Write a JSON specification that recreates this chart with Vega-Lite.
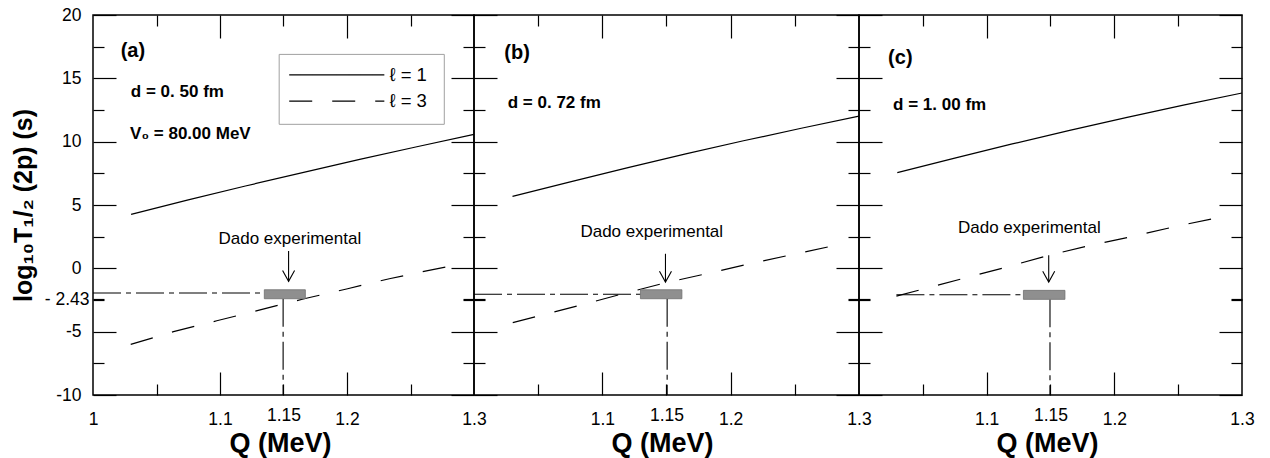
{
  "$schema": "https://vega.github.io/schema/vega-lite/v6.json",
  "padding": {"left": 10, "top": 5, "right": 5, "bottom": 5},
  "background": "white",
  "bounds": "flush",
  "spacing": 0,
  "config": {
    "view": {"stroke": "black", "strokeWidth": 1.5},
    "axis": {"domain": false, "grid": false, "labelFont": "Liberation Sans", "labelFontSize": 17.5, "labelColor": "black", "tickColor": "black", "tickWidth": 1.2, "titleFont": "Liberation Sans", "titleColor": "black", "labelFlush": false, "labelOverlap": false},
    "text": {"font": "Liberation Sans"}
  },
  "datasets": {
    "curves": [
      {"p": "a", "s": "l1", "Q": 1.03, "y": 4.26}, {"p": "a", "s": "l1", "Q": 1.075, "y": 5.40}, {"p": "a", "s": "l1", "Q": 1.12, "y": 6.50}, {"p": "a", "s": "l1", "Q": 1.165, "y": 7.56}, {"p": "a", "s": "l1", "Q": 1.21, "y": 8.60}, {"p": "a", "s": "l1", "Q": 1.255, "y": 9.60}, {"p": "a", "s": "l1", "Q": 1.30, "y": 10.58},
      {"p": "a", "s": "l3", "Q": 1.0297, "y": -6.00}, {"p": "a", "s": "l3", "Q": 1.0634, "y": -5.00}, {"p": "a", "s": "l3", "Q": 1.0975, "y": -4.14}, {"p": "a", "s": "l3", "Q": 1.1316, "y": -3.28}, {"p": "a", "s": "l3", "Q": 1.1663, "y": -2.40}, {"p": "a", "s": "l3", "Q": 1.2005, "y": -1.61}, {"p": "a", "s": "l3", "Q": 1.2333, "y": -0.82}, {"p": "a", "s": "l3", "Q": 1.2685, "y": -0.08}, {"p": "a", "s": "l3", "Q": 1.2853, "y": 0.24},
      {"p": "b", "s": "l1", "Q": 1.03, "y": 5.68}, {"p": "b", "s": "l1", "Q": 1.075, "y": 6.83}, {"p": "b", "s": "l1", "Q": 1.12, "y": 7.95}, {"p": "b", "s": "l1", "Q": 1.165, "y": 9.03}, {"p": "b", "s": "l1", "Q": 1.21, "y": 10.07}, {"p": "b", "s": "l1", "Q": 1.255, "y": 11.06}, {"p": "b", "s": "l1", "Q": 1.30, "y": 12.02},
      {"p": "b", "s": "l3", "Q": 1.0302, "y": -4.29}, {"p": "b", "s": "l3", "Q": 1.0803, "y": -2.98}, {"p": "b", "s": "l3", "Q": 1.1133, "y": -2.08}, {"p": "b", "s": "l3", "Q": 1.1484, "y": -1.16}, {"p": "b", "s": "l3", "Q": 1.181, "y": -0.43}, {"p": "b", "s": "l3", "Q": 1.2147, "y": 0.36}, {"p": "b", "s": "l3", "Q": 1.2486, "y": 1.10}, {"p": "b", "s": "l3", "Q": 1.2837, "y": 1.86},
      {"p": "c", "s": "l1", "Q": 1.03, "y": 7.55}, {"p": "c", "s": "l1", "Q": 1.075, "y": 8.70}, {"p": "c", "s": "l1", "Q": 1.12, "y": 9.82}, {"p": "c", "s": "l1", "Q": 1.165, "y": 10.89}, {"p": "c", "s": "l1", "Q": 1.21, "y": 11.92}, {"p": "c", "s": "l1", "Q": 1.255, "y": 12.90}, {"p": "c", "s": "l1", "Q": 1.30, "y": 13.84},
      {"p": "c", "s": "l3", "Q": 1.0293, "y": -2.19}, {"p": "c", "s": "l3", "Q": 1.0809, "y": -0.82}, {"p": "c", "s": "l3", "Q": 1.1139, "y": 0.05}, {"p": "c", "s": "l3", "Q": 1.1486, "y": 1.03}, {"p": "c", "s": "l3", "Q": 1.1816, "y": 1.82}, {"p": "c", "s": "l3", "Q": 1.2155, "y": 2.55}, {"p": "c", "s": "l3", "Q": 1.2494, "y": 3.34}, {"p": "c", "s": "l3", "Q": 1.2838, "y": 4.05}
    ],
    "exp": [
      {"p": "a", "k": "h", "Q": 1.0, "Q2": 1.1349, "y": -1.95, "y2": -1.95},
      {"p": "a", "k": "v", "Q": 1.1497, "Q2": 1.1497, "y": -2.40, "y2": -10},
      {"p": "a", "k": "box", "Q": 1.1349, "Q2": 1.1672, "y": -1.69, "y2": -2.40},
      {"p": "a", "k": "arrow", "Q": 1.154, "Q2": 1.154, "y": 1.36, "y2": -1.03},
      {"p": "a", "k": "text", "Q": 1.155, "y": 2.3, "label": "Dado experimental"},
      {"p": "b", "k": "h", "Q": 1.0, "Q2": 1.1297, "y": -2.05, "y2": -2.05},
      {"p": "b", "k": "v", "Q": 1.1505, "Q2": 1.1505, "y": -2.40, "y2": -10},
      {"p": "b", "k": "box", "Q": 1.1297, "Q2": 1.162, "y": -1.69, "y2": -2.40},
      {"p": "b", "k": "arrow", "Q": 1.1492, "Q2": 1.1492, "y": 1.15, "y2": -1.08},
      {"p": "b", "k": "text", "Q": 1.1385, "y": 2.87, "label": "Dado experimental"},
      {"p": "c", "k": "h", "Q": 1.0293, "Q2": 1.1288, "y": -2.08, "y2": -2.08},
      {"p": "c", "k": "v", "Q": 1.1496, "Q2": 1.1496, "y": -2.45, "y2": -10},
      {"p": "c", "k": "box", "Q": 1.1288, "Q2": 1.1613, "y": -1.74, "y2": -2.45},
      {"p": "c", "k": "arrow", "Q": 1.1486, "Q2": 1.1486, "y": 1.03, "y2": -1.08},
      {"p": "c", "k": "text", "Q": 1.1334, "y": 3.2, "label": "Dado experimental"}
    ],
    "txt": [
      {"p": "a", "k": "tag", "Q": 1.0218, "y": 17.15, "label": "(a)"},
      {"p": "a", "k": "info", "Q": 1.0298, "y": 13.92, "label": "d = 0. 50 fm"},
      {"p": "a", "k": "info", "Q": 1.0292, "y": 10.62, "label": "V₀ = 80.00 MeV"},
      {"p": "b", "k": "tag", "Q": 1.0236, "y": 17.0, "label": "(b)"},
      {"p": "b", "k": "info", "Q": 1.0263, "y": 13.06, "label": "d = 0. 72 fm"},
      {"p": "c", "k": "tag", "Q": 1.0228, "y": 16.6, "label": "(c)"},
      {"p": "c", "k": "info", "Q": 1.0267, "y": 12.9, "label": "d = 1. 00 fm"}
    ],
    "leg": [
      {"s": "l1", "Q": 1.1545, "Q2": 1.2294, "y": 15.28, "tQ": 1.2335, "label": "ℓ = 1"},
      {"s": "l3", "Q": 1.1545, "Q2": 1.2294, "y": 13.2, "tQ": 1.2335, "label": "ℓ = 3"}
    ],
    "legbox": [
      {"Q": 1.1466, "Q2": 1.2766, "y": 16.89, "y2": 11.37}
    ]
  },
  "hconcat": [
    {
      "width": 381, "height": 380,
      "resolve": {"axis": {"x": "independent", "y": "independent"}},
      "layer": [
        {"data": {"name": "curves"}, "transform": [{"filter": "datum.p=='a' && datum.s=='l1'"}],
         "mark": {"type": "line", "color": "black", "strokeWidth": 1.2},
         "encoding": {
           "x": {"field": "Q", "type": "quantitative", "scale": {"domain": [1, 1.3], "nice": false, "zero": false},
                 "axis": {"orient": "bottom", "values": [1.05, 1.1, 1.15, 1.2, 1.25], "labels": false, "title": null, "tickSize": {"condition": {"test": "datum.value==1.1 || datum.value==1.2", "value": -23}, "value": -11}}},
           "y": {"field": "y", "type": "quantitative", "scale": {"domain": [-10, 20], "nice": false, "zero": false},
                 "axis": {"orient": "left", "values": [-10, -7.5, -5, -2.5, -2.43, 0, 2.5, 5, 7.5, 10, 12.5, 15, 17.5, 20], "labels": false, "title": null, "tickSize": {"condition": {"test": "datum.value % 5 == 0", "value": -23}, "value": -11}}}
         }},
        {"data": {"name": "curves"}, "transform": [{"filter": "datum.p=='a' && datum.s=='l3'"}],
         "mark": {"type": "line", "color": "black", "strokeWidth": 1.2, "strokeDash": [23, 20]},
         "encoding": {
           "x": {"field": "Q", "type": "quantitative", "scale": {"domain": [1, 1.3], "nice": false, "zero": false},
                 "axis": {"orient": "top", "values": [1.05, 1.1, 1.15, 1.2, 1.25], "labels": false, "title": null, "tickSize": {"condition": {"test": "datum.value==1.1 || datum.value==1.2", "value": -23}, "value": -11}}},
           "y": {"field": "y", "type": "quantitative", "scale": {"domain": [-10, 20], "nice": false, "zero": false},
                 "axis": {"orient": "right", "values": [-10, -7.5, -5, -2.5, -2.43, 0, 2.5, 5, 7.5, 10, 12.5, 15, 17.5, 20], "labels": false, "title": null, "tickSize": {"condition": {"test": "datum.value % 5 == 0", "value": -23}, "value": -11}}}
         }},
        {"data": {"name": "exp"}, "transform": [{"filter": "datum.p=='a' && datum.k=='h'"}],
         "mark": {"type": "rule", "color": "black", "strokeWidth": 1.1, "strokeDash": [28, 5, 5, 5]},
         "encoding": {
           "x": {"field": "Q", "type": "quantitative", "scale": {"domain": [1, 1.3], "nice": false, "zero": false},
                 "axis": {"orient": "bottom", "values": [1, 1.1, 1.15, 1.2, 1.3], "ticks": false, "labelExpr": "'' + datum.value", "labelPadding": {"condition": {"test": "datum.value==1.15", "value": 11}, "value": 15}, "title": "Q (MeV)", "titleFontSize": 27, "titleFontWeight": "bold", "titleBaseline": "alphabetic", "titleY": 56, "titleX": 187}},
           "x2": {"field": "Q2"},
           "y": {"field": "y", "type": "quantitative", "scale": {"domain": [-10, 20], "nice": false, "zero": false},
                 "axis": {"orient": "left", "values": [-10, -5, -2.43, 0, 5, 10, 15, 20], "ticks": false, "labelExpr": "datum.value==-2.43 ? '- 2.43' : '' + datum.value", "labelPadding": {"condition": {"test": "datum.value==-2.43", "value": 4}, "value": 12}, "title": "log₁₀T₁/₂ (2p) (s)", "titleFontSize": 25, "titleFontWeight": "bold", "titleBaseline": "middle", "titleX": -70}}
         }},
        {"data": {"name": "exp"}, "transform": [{"filter": "datum.p=='a' && datum.k=='v'"}],
         "mark": {"type": "rule", "color": "black", "strokeWidth": 1.1, "strokeDash": [28, 5, 5, 5]},
         "encoding": {
           "x": {"field": "Q", "type": "quantitative", "axis": null},
           "y": {"field": "y", "type": "quantitative", "axis": null},
           "y2": {"field": "y2"}
         }},
        {"data": {"name": "exp"}, "transform": [{"filter": "datum.p=='a' && datum.k=='box'"}],
         "mark": {"type": "rect", "color": "#8f8f8f", "stroke": "#707070", "strokeWidth": 0.8},
         "encoding": {
           "x": {"field": "Q", "type": "quantitative", "axis": null}, "x2": {"field": "Q2"},
           "y": {"field": "y", "type": "quantitative", "axis": null}, "y2": {"field": "y2"}
         }},
        {"data": {"name": "exp"}, "transform": [{"filter": "datum.p=='a' && datum.k=='arrow'"}],
         "mark": {"type": "rule", "color": "black", "strokeWidth": 1.1},
         "encoding": {
           "x": {"field": "Q", "type": "quantitative", "axis": null},
           "y": {"field": "y", "type": "quantitative", "axis": null}, "y2": {"field": "y2"}
         }},
        {"data": {"name": "exp"}, "transform": [{"filter": "datum.p=='a' && datum.k=='arrow'"}],
         "mark": {"type": "point", "shape": "M-1,-1.8L0,0L1,-1.8", "size": 144, "filled": false, "color": "black", "strokeWidth": 1.1, "opacity": 1},
         "encoding": {
           "x": {"field": "Q", "type": "quantitative", "axis": null},
           "y": {"field": "y2", "type": "quantitative", "axis": null}
         }},
        {"data": {"name": "exp"}, "transform": [{"filter": "datum.p=='a' && datum.k=='text'"}],
         "mark": {"type": "text", "fontSize": 17, "align": "center", "baseline": "middle", "color": "black"},
         "encoding": {
           "x": {"field": "Q", "type": "quantitative", "axis": null},
           "y": {"field": "y", "type": "quantitative", "axis": null},
           "text": {"field": "label"}
         }},
        {"data": {"name": "txt"}, "transform": [{"filter": "datum.p=='a' && datum.k=='tag'"}],
         "mark": {"type": "text", "fontSize": 20, "fontWeight": "bold", "align": "left", "baseline": "middle", "color": "black"},
         "encoding": {
           "x": {"field": "Q", "type": "quantitative", "axis": null},
           "y": {"field": "y", "type": "quantitative", "axis": null},
           "text": {"field": "label"}
         }},
        {"data": {"name": "txt"}, "transform": [{"filter": "datum.p=='a' && datum.k=='info'"}],
         "mark": {"type": "text", "fontSize": 17, "fontWeight": "bold", "align": "left", "baseline": "middle", "color": "black"},
         "encoding": {
           "x": {"field": "Q", "type": "quantitative", "axis": null},
           "y": {"field": "y", "type": "quantitative", "axis": null},
           "text": {"field": "label"}
         }},
        {"data": {"name": "legbox"},
         "mark": {"type": "rect", "fill": "white", "stroke": "#a0a0a0", "strokeWidth": 1},
         "encoding": {
           "x": {"field": "Q", "type": "quantitative", "axis": null}, "x2": {"field": "Q2"},
           "y": {"field": "y", "type": "quantitative", "axis": null}, "y2": {"field": "y2"}
         }},
        {"data": {"name": "leg"},
         "mark": {"type": "rule", "color": "black", "strokeWidth": 1.2},
         "encoding": {
           "x": {"field": "Q", "type": "quantitative", "axis": null}, "x2": {"field": "Q2"},
           "y": {"field": "y", "type": "quantitative", "axis": null},
           "strokeDash": {"field": "s", "type": "nominal", "scale": {"domain": ["l1", "l3"], "range": [[1, 0], [23, 20]]}, "legend": null}
         }},
        {"data": {"name": "leg"},
         "mark": {"type": "text", "fontSize": 18.5, "align": "left", "baseline": "middle", "color": "black"},
         "encoding": {
           "x": {"field": "tQ", "type": "quantitative", "axis": null},
           "y": {"field": "y", "type": "quantitative", "axis": null},
           "text": {"field": "label"}
         }}
      ]
    },
    {
      "width": 385, "height": 380,
      "resolve": {"axis": {"x": "independent", "y": "independent"}},
      "layer": [
        {"data": {"name": "curves"}, "transform": [{"filter": "datum.p=='b' && datum.s=='l1'"}],
         "mark": {"type": "line", "color": "black", "strokeWidth": 1.2},
         "encoding": {
           "x": {"field": "Q", "type": "quantitative", "scale": {"domain": [1, 1.3], "nice": false, "zero": false},
                 "axis": {"orient": "bottom", "values": [1.05, 1.1, 1.15, 1.2, 1.25], "labels": false, "title": null, "tickSize": {"condition": {"test": "datum.value==1.1 || datum.value==1.2", "value": -23}, "value": -11}}},
           "y": {"field": "y", "type": "quantitative", "scale": {"domain": [-10, 20], "nice": false, "zero": false},
                 "axis": {"orient": "left", "values": [-10, -7.5, -5, -2.5, -2.43, 0, 2.5, 5, 7.5, 10, 12.5, 15, 17.5, 20], "labels": false, "title": null, "tickSize": {"condition": {"test": "datum.value % 5 == 0", "value": -23}, "value": -11}}}
         }},
        {"data": {"name": "curves"}, "transform": [{"filter": "datum.p=='b' && datum.s=='l3'"}],
         "mark": {"type": "line", "color": "black", "strokeWidth": 1.2, "strokeDash": [23, 20]},
         "encoding": {
           "x": {"field": "Q", "type": "quantitative", "scale": {"domain": [1, 1.3], "nice": false, "zero": false},
                 "axis": {"orient": "top", "values": [1.05, 1.1, 1.15, 1.2, 1.25], "labels": false, "title": null, "tickSize": {"condition": {"test": "datum.value==1.1 || datum.value==1.2", "value": -23}, "value": -11}}},
           "y": {"field": "y", "type": "quantitative", "scale": {"domain": [-10, 20], "nice": false, "zero": false},
                 "axis": {"orient": "right", "values": [-10, -7.5, -5, -2.5, -2.43, 0, 2.5, 5, 7.5, 10, 12.5, 15, 17.5, 20], "labels": false, "title": null, "tickSize": {"condition": {"test": "datum.value % 5 == 0", "value": -23}, "value": -11}}}
         }},
        {"data": {"name": "exp"}, "transform": [{"filter": "datum.p=='b' && datum.k=='h'"}],
         "mark": {"type": "rule", "color": "black", "strokeWidth": 1.1, "strokeDash": [28, 5, 5, 5]},
         "encoding": {
           "x": {"field": "Q", "type": "quantitative", "scale": {"domain": [1, 1.3], "nice": false, "zero": false},
                 "axis": {"orient": "bottom", "values": [1.1, 1.15, 1.2, 1.3], "ticks": false, "labelExpr": "'' + datum.value", "labelPadding": {"condition": {"test": "datum.value==1.15", "value": 11}, "value": 15}, "title": "Q (MeV)", "titleFontSize": 27, "titleFontWeight": "bold", "titleBaseline": "alphabetic", "titleY": 56, "titleX": 188}},
           "x2": {"field": "Q2"},
           "y": {"field": "y", "type": "quantitative", "scale": {"domain": [-10, 20], "nice": false, "zero": false}, "axis": null}
         }},
        {"data": {"name": "exp"}, "transform": [{"filter": "datum.p=='b' && datum.k=='v'"}],
         "mark": {"type": "rule", "color": "black", "strokeWidth": 1.1, "strokeDash": [28, 5, 5, 5]},
         "encoding": {
           "x": {"field": "Q", "type": "quantitative", "axis": null},
           "y": {"field": "y", "type": "quantitative", "axis": null},
           "y2": {"field": "y2"}
         }},
        {"data": {"name": "exp"}, "transform": [{"filter": "datum.p=='b' && datum.k=='box'"}],
         "mark": {"type": "rect", "color": "#8f8f8f", "stroke": "#707070", "strokeWidth": 0.8},
         "encoding": {
           "x": {"field": "Q", "type": "quantitative", "axis": null}, "x2": {"field": "Q2"},
           "y": {"field": "y", "type": "quantitative", "axis": null}, "y2": {"field": "y2"}
         }},
        {"data": {"name": "exp"}, "transform": [{"filter": "datum.p=='b' && datum.k=='arrow'"}],
         "mark": {"type": "rule", "color": "black", "strokeWidth": 1.1},
         "encoding": {
           "x": {"field": "Q", "type": "quantitative", "axis": null},
           "y": {"field": "y", "type": "quantitative", "axis": null}, "y2": {"field": "y2"}
         }},
        {"data": {"name": "exp"}, "transform": [{"filter": "datum.p=='b' && datum.k=='arrow'"}],
         "mark": {"type": "point", "shape": "M-1,-1.8L0,0L1,-1.8", "size": 144, "filled": false, "color": "black", "strokeWidth": 1.1, "opacity": 1},
         "encoding": {
           "x": {"field": "Q", "type": "quantitative", "axis": null},
           "y": {"field": "y2", "type": "quantitative", "axis": null}
         }},
        {"data": {"name": "exp"}, "transform": [{"filter": "datum.p=='b' && datum.k=='text'"}],
         "mark": {"type": "text", "fontSize": 17, "align": "center", "baseline": "middle", "color": "black"},
         "encoding": {
           "x": {"field": "Q", "type": "quantitative", "axis": null},
           "y": {"field": "y", "type": "quantitative", "axis": null},
           "text": {"field": "label"}
         }},
        {"data": {"name": "txt"}, "transform": [{"filter": "datum.p=='b' && datum.k=='tag'"}],
         "mark": {"type": "text", "fontSize": 20, "fontWeight": "bold", "align": "left", "baseline": "middle", "color": "black"},
         "encoding": {
           "x": {"field": "Q", "type": "quantitative", "axis": null},
           "y": {"field": "y", "type": "quantitative", "axis": null},
           "text": {"field": "label"}
         }},
        {"data": {"name": "txt"}, "transform": [{"filter": "datum.p=='b' && datum.k=='info'"}],
         "mark": {"type": "text", "fontSize": 17, "fontWeight": "bold", "align": "left", "baseline": "middle", "color": "black"},
         "encoding": {
           "x": {"field": "Q", "type": "quantitative", "axis": null},
           "y": {"field": "y", "type": "quantitative", "axis": null},
           "text": {"field": "label"}
         }}
      ]
    },
    {
      "width": 383, "height": 380,
      "resolve": {"axis": {"x": "independent", "y": "independent"}},
      "layer": [
        {"data": {"name": "curves"}, "transform": [{"filter": "datum.p=='c' && datum.s=='l1'"}],
         "mark": {"type": "line", "color": "black", "strokeWidth": 1.2},
         "encoding": {
           "x": {"field": "Q", "type": "quantitative", "scale": {"domain": [1, 1.3], "nice": false, "zero": false},
                 "axis": {"orient": "bottom", "values": [1.05, 1.1, 1.15, 1.2, 1.25], "labels": false, "title": null, "tickSize": {"condition": {"test": "datum.value==1.1 || datum.value==1.2", "value": -23}, "value": -11}}},
           "y": {"field": "y", "type": "quantitative", "scale": {"domain": [-10, 20], "nice": false, "zero": false},
                 "axis": {"orient": "left", "values": [-10, -7.5, -5, -2.5, -2.43, 0, 2.5, 5, 7.5, 10, 12.5, 15, 17.5, 20], "labels": false, "title": null, "tickSize": {"condition": {"test": "datum.value % 5 == 0", "value": -23}, "value": -11}}}
         }},
        {"data": {"name": "curves"}, "transform": [{"filter": "datum.p=='c' && datum.s=='l3'"}],
         "mark": {"type": "line", "color": "black", "strokeWidth": 1.2, "strokeDash": [23, 20]},
         "encoding": {
           "x": {"field": "Q", "type": "quantitative", "scale": {"domain": [1, 1.3], "nice": false, "zero": false},
                 "axis": {"orient": "top", "values": [1.05, 1.1, 1.15, 1.2, 1.25], "labels": false, "title": null, "tickSize": {"condition": {"test": "datum.value==1.1 || datum.value==1.2", "value": -23}, "value": -11}}},
           "y": {"field": "y", "type": "quantitative", "scale": {"domain": [-10, 20], "nice": false, "zero": false},
                 "axis": {"orient": "right", "values": [-10, -7.5, -5, -2.5, -2.43, 0, 2.5, 5, 7.5, 10, 12.5, 15, 17.5, 20], "labels": false, "title": null, "tickSize": {"condition": {"test": "datum.value % 5 == 0", "value": -23}, "value": -11}}}
         }},
        {"data": {"name": "exp"}, "transform": [{"filter": "datum.p=='c' && datum.k=='h'"}],
         "mark": {"type": "rule", "color": "black", "strokeWidth": 1.1, "strokeDash": [28, 5, 5, 5]},
         "encoding": {
           "x": {"field": "Q", "type": "quantitative", "scale": {"domain": [1, 1.3], "nice": false, "zero": false},
                 "axis": {"orient": "bottom", "values": [1.1, 1.15, 1.2, 1.3], "ticks": false, "labelExpr": "'' + datum.value", "labelPadding": {"condition": {"test": "datum.value==1.15", "value": 11}, "value": 15}, "title": "Q (MeV)", "titleFontSize": 27, "titleFontWeight": "bold", "titleBaseline": "alphabetic", "titleY": 56, "titleX": 188}},
           "x2": {"field": "Q2"},
           "y": {"field": "y", "type": "quantitative", "scale": {"domain": [-10, 20], "nice": false, "zero": false}, "axis": null}
         }},
        {"data": {"name": "exp"}, "transform": [{"filter": "datum.p=='c' && datum.k=='v'"}],
         "mark": {"type": "rule", "color": "black", "strokeWidth": 1.1, "strokeDash": [28, 5, 5, 5]},
         "encoding": {
           "x": {"field": "Q", "type": "quantitative", "axis": null},
           "y": {"field": "y", "type": "quantitative", "axis": null},
           "y2": {"field": "y2"}
         }},
        {"data": {"name": "exp"}, "transform": [{"filter": "datum.p=='c' && datum.k=='box'"}],
         "mark": {"type": "rect", "color": "#8f8f8f", "stroke": "#707070", "strokeWidth": 0.8},
         "encoding": {
           "x": {"field": "Q", "type": "quantitative", "axis": null}, "x2": {"field": "Q2"},
           "y": {"field": "y", "type": "quantitative", "axis": null}, "y2": {"field": "y2"}
         }},
        {"data": {"name": "exp"}, "transform": [{"filter": "datum.p=='c' && datum.k=='arrow'"}],
         "mark": {"type": "rule", "color": "black", "strokeWidth": 1.1},
         "encoding": {
           "x": {"field": "Q", "type": "quantitative", "axis": null},
           "y": {"field": "y", "type": "quantitative", "axis": null}, "y2": {"field": "y2"}
         }},
        {"data": {"name": "exp"}, "transform": [{"filter": "datum.p=='c' && datum.k=='arrow'"}],
         "mark": {"type": "point", "shape": "M-1,-1.8L0,0L1,-1.8", "size": 144, "filled": false, "color": "black", "strokeWidth": 1.1, "opacity": 1},
         "encoding": {
           "x": {"field": "Q", "type": "quantitative", "axis": null},
           "y": {"field": "y2", "type": "quantitative", "axis": null}
         }},
        {"data": {"name": "exp"}, "transform": [{"filter": "datum.p=='c' && datum.k=='text'"}],
         "mark": {"type": "text", "fontSize": 17, "align": "center", "baseline": "middle", "color": "black"},
         "encoding": {
           "x": {"field": "Q", "type": "quantitative", "axis": null},
           "y": {"field": "y", "type": "quantitative", "axis": null},
           "text": {"field": "label"}
         }},
        {"data": {"name": "txt"}, "transform": [{"filter": "datum.p=='c' && datum.k=='tag'"}],
         "mark": {"type": "text", "fontSize": 20, "fontWeight": "bold", "align": "left", "baseline": "middle", "color": "black"},
         "encoding": {
           "x": {"field": "Q", "type": "quantitative", "axis": null},
           "y": {"field": "y", "type": "quantitative", "axis": null},
           "text": {"field": "label"}
         }},
        {"data": {"name": "txt"}, "transform": [{"filter": "datum.p=='c' && datum.k=='info'"}],
         "mark": {"type": "text", "fontSize": 17, "fontWeight": "bold", "align": "left", "baseline": "middle", "color": "black"},
         "encoding": {
           "x": {"field": "Q", "type": "quantitative", "axis": null},
           "y": {"field": "y", "type": "quantitative", "axis": null},
           "text": {"field": "label"}
         }}
      ]
    }
  ]
}
